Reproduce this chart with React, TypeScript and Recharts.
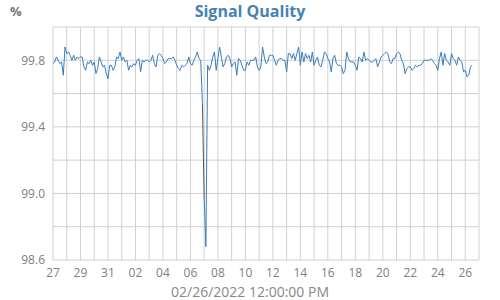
import { LineChart, Line, XAxis, YAxis, CartesianGrid } from "recharts";

// readings every 3 hours, starting 01/27/2022 00:00
const STEP_DAYS = 0.125;

// 27 Jan - 02 Feb
const qualityA = [
  99.78, 99.79, 99.82, 99.8, 99.78, 99.79, 99.71, 99.88, 99.84, 99.85,
  99.83, 99.8, 99.83, 99.8, 99.82, 99.81, 99.82, 99.82, 99.76, 99.74,
  99.79, 99.78, 99.8, 99.77, 99.79, 99.72, 99.75, 99.82, 99.79, 99.76,
  99.77, 99.72, 99.69, 99.77, 99.77, 99.74, 99.76, 99.82, 99.81, 99.85,
  99.8, 99.82, 99.79, 99.8, 99.74, 99.77, 99.76, 99.78, 99.77, 99.8
];
// 02 Feb - 08 Feb
const qualityB = [
  99.81, 99.73, 99.8, 99.79, 99.8, 99.8, 99.79, 99.8, 99.83, 99.78,
  99.76, 99.83, 99.84, 99.83, 99.81, 99.78, 99.79, 99.81, 99.81, 99.81,
  99.82, 99.8, 99.77, 99.75, 99.74, 99.77, 99.76, 99.77, 99.78, 99.82,
  99.78, 99.77, 99.8, 99.82, 99.85, 99.81, 99.8, 99.54, 98.97, 98.68,
  99.77, 99.74, 99.77, 99.82, 99.85, 99.74, 99.81, 99.88, 99.82, 99.76
];
// 08 Feb - 14 Feb
const qualityC = [
  99.78, 99.82, 99.83, 99.81, 99.76, 99.78, 99.79, 99.71, 99.81, 99.8,
  99.77, 99.74, 99.74, 99.79, 99.77, 99.8, 99.8, 99.8, 99.82, 99.76,
  99.74, 99.76, 99.88, 99.82, 99.78, 99.79, 99.83, 99.83, 99.83, 99.8,
  99.77, 99.8, 99.81, 99.81, 99.8, 99.8, 99.73, 99.84, 99.84, 99.81,
  99.84, 99.8, 99.84, 99.88, 99.77, 99.85, 99.79, 99.84, 99.81, 99.83
];
// 14 Feb - 20 Feb
const qualityD = [
  99.79, 99.85, 99.77, 99.8, 99.82, 99.77, 99.76, 99.8, 99.85, 99.84,
  99.81, 99.79, 99.73, 99.81, 99.83, 99.78, 99.77, 99.77, 99.76, 99.72,
  99.74, 99.85, 99.81, 99.79, 99.79, 99.79, 99.77, 99.74, 99.82, 99.81,
  99.79, 99.85, 99.8, 99.81, 99.8, 99.79, 99.79, 99.8, 99.81, 99.76,
  99.79, 99.82, 99.83, 99.84, 99.85, 99.84, 99.79, 99.78, 99.81
];
// 20 Feb - 26 Feb 12:00 PM
const qualityE = [
  99.81, 99.84, 99.85, 99.84, 99.8, 99.78, 99.72, 99.75, 99.76, 99.76,
  99.74, 99.75, 99.77, 99.76, 99.77, 99.77, 99.78, 99.8, 99.8, 99.8,
  99.8, 99.81, 99.8, 99.78, 99.77, 99.74, 99.81, 99.85, 99.77, 99.84,
  99.8, 99.79, 99.77, 99.84, 99.81, 99.8, 99.77, 99.82, 99.8, 99.79,
  99.73, 99.74, 99.7, 99.71, 99.76, 99.77
];

// reading index after which the link dropped (drawn as a grey connector)
const gapAfter = [87];

const dayLabels = ["27", "29", "31", "02", "04", "06", "08", "10", "12", "14", "16", "18", "20", "22", "24", "26"];
const dayGrid = Array.from({ length: 32 }, (_, i) => i);
const yTicks = [98.6, 98.8, 99.0, 99.2, 99.4, 99.6, 99.8, 100];
const yLabels = [98.6, 99.0, 99.4, 99.8];

const values = [...qualityA, ...qualityB, ...qualityC, ...qualityD, ...qualityE];
const segKeys = Array.from({ length: gapAfter.length + 1 }, (_, s) => `q${s}`);

const data = values.map((v, i) => {
  const seg = gapAfter.filter((g) => i > g).length;
  const row: Record<string, number | null> = {
    day: i * STEP_DAYS,
    gap: gapAfter.some((g) => i === g || i === g + 1) ? v : null
  };
  segKeys.forEach((k, s) => (row[k] = s === seg ? v : null));
  return row;
});

const font = "'Open Sans', sans-serif";

export default function App() {
  return (
    <div style={{ position: "absolute", left: 0, top: 0, width: 500, height: 300, background: "#fff", fontFamily: font }}>
      <div style={{ position: "absolute", left: 10, top: 2, fontSize: 13, fontWeight: 700, color: "#777" }}>%</div>
      <div style={{ position: "absolute", left: 0, width: 500, top: 0, textAlign: "center", fontSize: 16, fontWeight: 700, color: "#4682b4" }}>
        Signal Quality
      </div>
      <LineChart width={500} height={300} data={data} margin={{ top: 27, right: 21, bottom: 20, left: 0 }}>
        <CartesianGrid stroke="#d0d0d0" />
        <XAxis
          dataKey="day"
          type="number"
          domain={[0, 31]}
          ticks={dayGrid}
          interval={0}
          height={20}
          axisLine={false}
          tickLine={false}
          tick={{ fontSize: 12, fill: "#808080", fontFamily: font }}
          tickFormatter={(d: number) => (d % 2 === 0 && d / 2 < dayLabels.length ? dayLabels[d / 2] : "")}
        />
        <YAxis
          type="number"
          domain={[98.6, 100]}
          ticks={yTicks}
          interval={0}
          width={53}
          axisLine={false}
          tickLine={false}
          tick={{ fontSize: 12, fill: "#808080", fontFamily: font }}
          tickFormatter={(v: number) => (yLabels.includes(v) ? v.toFixed(1) : "")}
        />
        <Line dataKey="gap" stroke="#555" strokeWidth={1} dot={false} connectNulls isAnimationActive={false} />
        {segKeys.map((k) => (
          <Line key={k} dataKey={k} stroke="#3a7dbc" strokeWidth={1} dot={false} isAnimationActive={false} />
        ))}
      </LineChart>
      <div style={{ position: "absolute", left: 0, width: 500, top: 282, textAlign: "center", fontSize: 14, color: "#888" }}>
        02/26/2022 12:00:00 PM
      </div>
    </div>
  );
}
